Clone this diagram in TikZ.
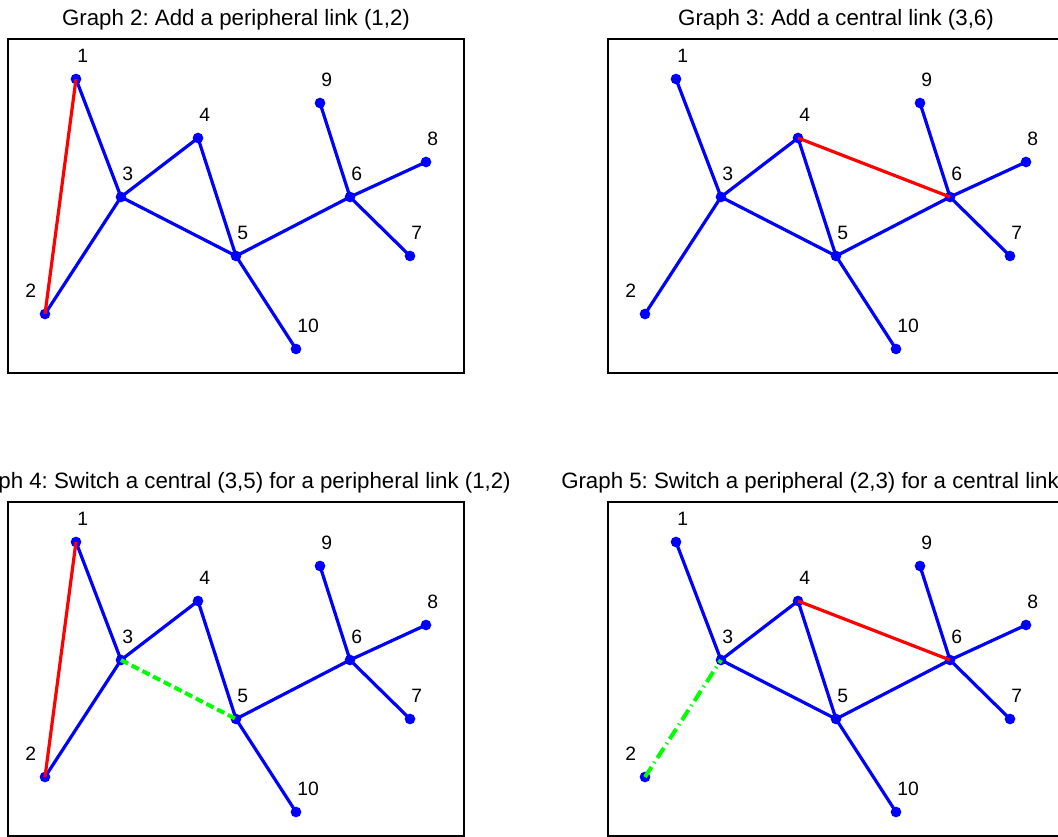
\documentclass[tikz,border=0pt]{standalone}
\usepackage{fontspec}
\setmainfont{Liberation Sans}
\frenchspacing
\definecolor{mblue}{RGB}{0,0,255}
\definecolor{mred}{RGB}{255,0,0}
\definecolor{mgreen}{RGB}{0,255,0}
\tikzset{
  frame/.style={draw=black, line width=0.8pt},
  vtx/.style={circle, fill=mblue, inner sep=0pt, minimum size=8pt},
  lbl/.style={anchor=base west, inner sep=0pt, font=\fontsize{14.5}{17}\selectfont},
  ttl/.style={anchor=base, inner sep=0pt, font=\fontsize{16.7}{20}\selectfont},
  bedge/.style={draw=mblue, line width=2.4pt},
  redge/.style={draw=mred, line width=2.4pt},
  gdash/.style={draw=mgreen, line width=3pt, dash pattern=on 6pt off 3pt},
  gdashdot/.style={draw=mgreen, line width=3pt, dash pattern=on 9pt off 3.5pt on 1pt off 3.5pt},
}
\newcommand\mkpanel[4]{% prefix, xoff, yoff, title
  \begin{scope}[shift={(#2,#3)}]
    \draw[frame] (8,39) rectangle (464,373);
    \node[ttl] (#1title) at (236,26) {#4};
    \foreach \i/\x/\y in {1/76/79, 2/45/314, 3/121/197, 4/198/138, 5/236/256,
                          6/350/197, 7/410/256, 8/426/162, 9/320/103, 10/296/349} {
      \node[vtx] (#1n\i) at (\x,\y) {};
    }
    \foreach \i/\x/\y in {1/77/63, 2/25/298, 3/122/181, 4/199/122, 5/237/240,
                          6/351/181, 7/411/240, 8/427/146, 9/321/87, 10/297/333} {
      \node[lbl] (#1l\i) at (\x,\y) {\i};
    }
  \end{scope}}
\begin{document}
\begin{tikzpicture}[x=0.75pt, y=-0.75pt]
  \useasboundingbox (0,0) rectangle (1058,837);
  \clip (0,0) rectangle (1058,837);
  \fill[white] (0,0) rectangle (1058,837);

  % Graph 2
  \mkpanel{a}{0}{0}{Graph 2: Add a peripheral link (1,2)}
  \foreach \u/\v in {1/3, 2/3, 3/4, 3/5, 4/5, 5/6, 6/9, 6/8, 6/7, 5/10}
    \draw[bedge] (an\u.center) -- (an\v.center);
  \draw[redge] (an1.center) -- (an2.center);

  % Graph 3
  \mkpanel{b}{600}{0}{Graph 3: Add a central link (3,6)}
  \foreach \u/\v in {1/3, 2/3, 3/4, 3/5, 4/5, 5/6, 6/9, 6/8, 6/7, 5/10}
    \draw[bedge] (bn\u.center) -- (bn\v.center);
  \draw[redge] (bn4.center) -- (bn6.center);

  % Graph 4
  \mkpanel{c}{0}{463}{Graph 4: Switch a central (3,5) for a peripheral link (1,2)}
  \foreach \u/\v in {1/3, 2/3, 3/4, 4/5, 5/6, 6/9, 6/8, 6/7, 5/10}
    \draw[bedge] (cn\u.center) -- (cn\v.center);
  \draw[redge] (cn1.center) -- (cn2.center);
  \draw[gdash] (cn3.center) -- (cn5.center);

  % Graph 5
  \mkpanel{d}{600}{463}{Graph 5: Switch a peripheral (2,3) for a central link (3,6)}
  \foreach \u/\v in {1/3, 3/4, 3/5, 4/5, 5/6, 6/9, 6/8, 6/7, 5/10}
    \draw[bedge] (dn\u.center) -- (dn\v.center);
  \draw[redge] (dn4.center) -- (dn6.center);
  \draw[gdashdot] (dn2.center) -- (dn3.center);
\end{tikzpicture}
\end{document}
